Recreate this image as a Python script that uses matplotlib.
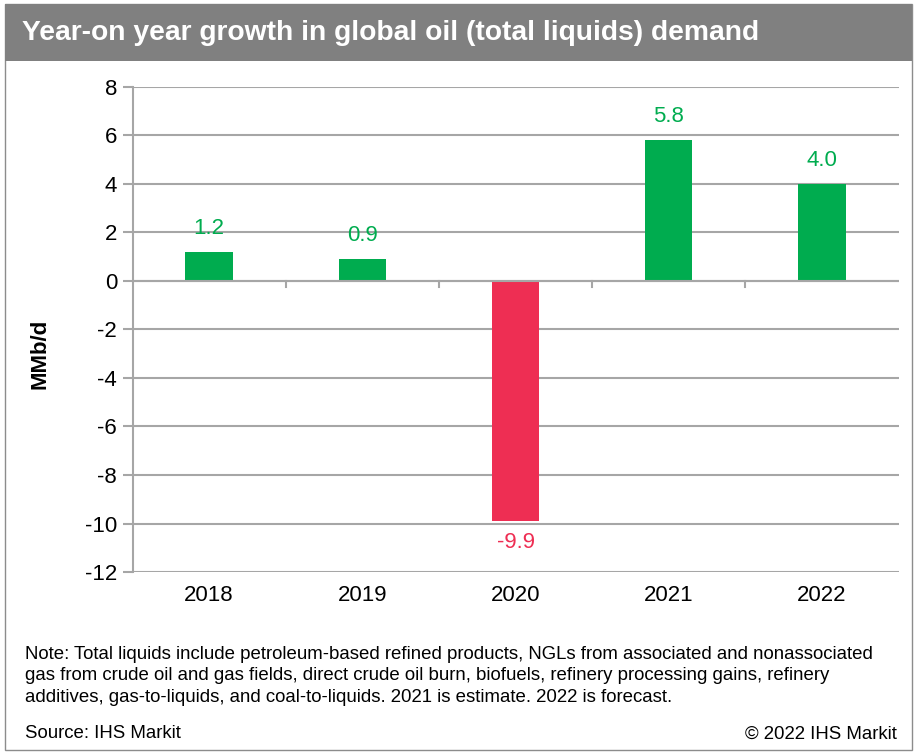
import numpy as np
import matplotlib.pyplot as plt
from matplotlib.patches import Rectangle

plt.rcParams['font.family'] = ['Liberation Sans', 'DejaVu Sans']

# data
years = ['2018', '2019', '2020', '2021', '2022']
growth = [1.2, 0.9, -9.9, 5.8, 4.0]
labels = ['1.2', '0.9', '-9.9', '5.8', '4.0']

green = '#00ac4f'
red = '#ee2e53'
grid_c = '#a6a6a6'

W, H = 917, 754
fig = plt.figure(figsize=(W / 100, H / 100), dpi=100)

# outer frame and title bar
fig.patches.append(Rectangle((5 / W, 1 - 750 / H), 907 / W, 746 / H, transform=fig.transFigure,
                             fill=False, edgecolor='#8c8c8c', lw=1))
fig.patches.append(Rectangle((5 / W, 1 - 61 / H), 907 / W, 57 / H, transform=fig.transFigure,
                             facecolor='#808080', edgecolor='none'))
fig.text(22 / W, 1 - 33 / H, 'Year-on year growth in global oil (total liquids) demand',
         color='white', fontsize=20.3, fontweight='bold', va='center', ha='left')

# axes
ax = fig.add_axes([132.5 / W, 1 - 572 / H, 766 / W, 485 / H])
x = np.arange(len(years))
colors = [green if v >= 0 else red for v in growth]
ax.bar(x, growth, width=0.31, color=colors, zorder=3)

ax.set_xlim(-0.5, len(years) - 0.5)
ax.set_ylim(-12, 8)
ax.set_yticks(np.arange(-12, 9, 2))
ax.set_yticklabels([str(v) for v in range(-12, 9, 2)])
ax.yaxis.grid(True, color=grid_c, lw=1.5, zorder=0)
ax.tick_params(axis='y', length=7, width=1.5, color=grid_c, labelsize=16, pad=4)

# category labels at bottom, ticks between categories on the zero line
ax.set_xticks([])
for i, yr in enumerate(years):
    ax.text(i, -12.55, yr, ha='center', va='top', fontsize=16,
            transform=ax.transData)
ax.axhline(0, color=grid_c, lw=1.5, zorder=4)
for b in np.arange(0.5, len(years) - 0.5, 1.0):
    ax.plot([b, b], [0, -0.25], color=grid_c, lw=1.5, zorder=4, clip_on=False)

for s in ['top', 'right', 'bottom']:
    ax.spines[s].set_visible(False)
ax.spines['left'].set_color(grid_c)
ax.spines['left'].set_linewidth(1.5)

for i, (v, t) in enumerate(zip(growth, labels)):
    if v >= 0:
        ax.text(i, v + 0.55, t, ha='center', va='bottom', fontsize=16, color=green)
    else:
        ax.text(i, v - 0.45, t, ha='center', va='top', fontsize=16, color=red)

fig.text(40 / W, 1 - 354 / H, 'MMb/d', fontsize=16, fontweight='bold',
         rotation=90, ha='center', va='center')

# notes
note = ('Note: Total liquids include petroleum-based refined products, NGLs from associated and nonassociated\n'
        'gas from crude oil and gas fields, direct crude oil burn, biofuels, refinery processing gains, refinery\n'
        'additives, gas-to-liquids, and coal-to-liquids. 2021 is estimate. 2022 is forecast.')
fig.text(25 / W, 1 - 676 / H, note, fontsize=13.4, va='center', ha='left', linespacing=1.32)
fig.text(25 / W, 1 - 734 / H, 'Source: IHS Markit', fontsize=13.4, va='center', ha='left')
fig.text(897 / W, 1 - 734 / H, '\u00a9 2022 IHS Markit', fontsize=13.4, va='center', ha='right')

fig.savefig('out.png', dpi=100)
